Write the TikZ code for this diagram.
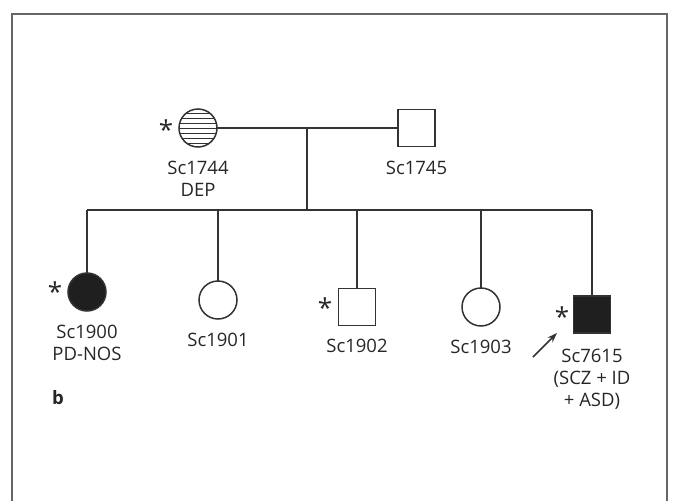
\documentclass[tikz,border=0pt]{standalone}
\usepackage{fontspec}
\setmainfont{Open Sans}
\usetikzlibrary{arrows.meta}
\begin{document}
\begin{tikzpicture}[x=1pt,y=-1pt]
\tikzset{
  ln/.style={line width=1.5pt, draw=black!80},
  fem/.style={circle, ln, minimum size=38pt, inner sep=0pt, outer sep=0pt},
  mal/.style={rectangle, ln, minimum size=37pt, inner sep=0pt, outer sep=0pt},
  aff/.style={fill=black!88},
  lbl/.style={font=\fontsize{18.5}{22}\selectfont, align=center, text=black!85, inner sep=0pt, anchor=base},
  astx/.style={font=\fontsize{26}{26}\selectfont, text=black!85, inner sep=0pt},
  frame/.style={line width=1.2pt, draw=black!60}
}
\useasboundingbox (0,0) rectangle (678,501);
\draw[frame] (12,501) -- (12,14) -- (667,14) -- (667,501);

% parents
\node[fem] (m) at (198,128) {};
\begin{scope}
  \clip (198,128) circle (19);
  \foreach \yy in {113,118,123,128,133,138,143}
    \draw[ln, line width=1pt] (175,\yy) -- (221,\yy);
\end{scope}
\node[mal] (f) at (416.5,128) {};
\node[astx] (sm) at (166,130) {*};
\node[lbl] (lm) at (198,196) {Sc1744\\DEP};
\node[lbl] (lf) at (416.5,174) {Sc1745};

\coordinate (d) at (307,128);
\coordinate (sl) at (87,210);
\coordinate (sr) at (592,210);
\draw[ln] (m) -- (f);
\draw[ln] (d) -- (307,210);
\draw[ln] (sl) -- (sr);

% children
\node[fem, aff] (c1) at (87,292) {};
\node[fem] (c2) at (218,300) {};
\node[mal] (c3) at (357,307) {};
\node[fem] (c4) at (481,307) {};
\node[mal, aff] (c5) at (592,314.5) {};

\draw[ln] (sl) -- (c1);
\draw[ln] (c2 |- sl) -- (c2);
\draw[ln] (c3 |- sl) -- (c3);
\draw[ln] (c4 |- sl) -- (c4);
\draw[ln] (sr) -- (c5);

\node[astx] (s1) at (55,292) {*};
\node[astx] (s3) at (325,308) {*};
\node[astx] (s5) at (562,317) {*};

\node[lbl] (l1) at (87,360) {Sc1900\\PD-NOS};
\node[lbl] (l2) at (218,346) {Sc1901};
\node[lbl] (l3) at (357,352) {Sc1902};
\node[lbl] (l4) at (481,353) {Sc1903};
\node[lbl] (l5) at (592,406) {Sc7615\\(SCZ + ID\\+ ASD)};

\coordinate (a0) at (533,357);
\coordinate (a1) at (557,333);
\draw[ln, -{Stealth[length=10pt,width=7pt]}] (a0) -- (a1);

\node[font=\fontsize{18.5}{20}\selectfont\bfseries, text=black!85, inner sep=0pt, anchor=base] (b) at (58,404) {b};
\end{tikzpicture}
\end{document}
